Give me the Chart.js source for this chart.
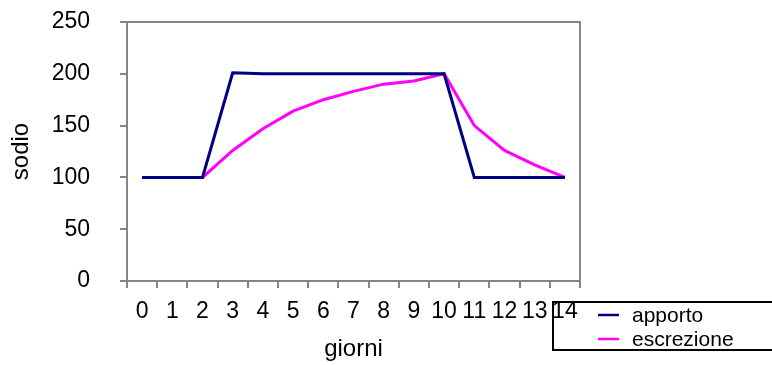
<!DOCTYPE html>
<html>
<head>
<meta charset="utf-8">
<script src="https://cdn.jsdelivr.net/npm/chart.js@4/dist/chart.umd.min.js"></script>
<style>
  html, body { margin: 0; padding: 0; background: #fff; }
  #wrap { width: 772px; height: 365px; }
</style>
</head>
<body>
<div id="wrap"><canvas id="c" width="772" height="365"></canvas></div>
<script>
// Days on the horizontal axis
const giorni = ['0','1','2','3','4','5','6','7','8','9','10','11','12','13','14'];
// Sodium intake
const apporto = [100, 100, 100, 201, 200, 200, 200, 200, 200, 200, 200, 100, 100, 100, 100];
// Sodium excretion
const escrezione = [100, 100, 100, 126, 147, 164, 175, 183, 190, 193, 200, 150, 126, 112, 100];
// Value axis ticks
const yTicks = [0, 50, 100, 150, 200, 250];
// Axis titles
const xTitle = 'giorni';
const yTitle = 'sodio';

const FONT = "'Liberation Sans', Arial, sans-serif";
const AXIS_GREY = '#858585';

// Grey frame around the plotting area
const frame = {
  id: 'frame',
  beforeDatasetsDraw(chart) {
    const { ctx, chartArea: a } = chart;
    ctx.save();
    ctx.strokeStyle = AXIS_GREY;
    ctx.lineWidth = 2;
    ctx.beginPath();
    ctx.moveTo(a.left, a.top);
    ctx.lineTo(a.right, a.top);
    ctx.lineTo(a.right, a.bottom);
    ctx.stroke();
    ctx.restore();
  }
};

// Axis titles placed relative to the plot area
const axisTitles = {
  id: 'axisTitles',
  afterDraw(chart) {
    const { ctx, chartArea: a } = chart;
    ctx.save();
    ctx.fillStyle = '#000';
    ctx.font = '24px ' + FONT;
    ctx.textAlign = 'center';
    ctx.textBaseline = 'alphabetic';
    ctx.fillText(xTitle, (a.left + a.right) / 2, a.bottom + 75);
    ctx.translate(28, (a.top + a.bottom) / 2);
    ctx.rotate(-Math.PI / 2);
    ctx.fillText(yTitle, 0, 0);
    ctx.restore();
  }
};

// Boxed legend in the lower right corner
const boxLegend = {
  id: 'boxLegend',
  afterDraw(chart) {
    const { ctx } = chart;
    const x = 553, y = 302, w = 230, h = 48;
    ctx.save();
    ctx.strokeStyle = '#000';
    ctx.lineWidth = 2;
    ctx.strokeRect(x, y, w, h);
    ctx.font = '21px ' + FONT;
    ctx.textBaseline = 'middle';
    chart.data.datasets.forEach((ds, i) => {
      const cy = 315 + i * 24;
      ctx.strokeStyle = ds.borderColor;
      ctx.lineWidth = 2.5;
      ctx.beginPath();
      ctx.moveTo(598, cy);
      ctx.lineTo(619, cy);
      ctx.stroke();
      ctx.fillStyle = '#000';
      ctx.fillText(ds.label, 632, cy + 1);
    });
    ctx.restore();
  }
};

new Chart(document.getElementById('c'), {
  type: 'line',
  data: {
    labels: giorni,
    datasets: [
      { label: 'apporto', data: apporto, borderColor: '#000080', borderWidth: 3,
        pointRadius: 0, tension: 0, fill: false },
      { label: 'escrezione', data: escrezione, borderColor: '#FF00FF', borderWidth: 3,
        pointRadius: 0, tension: 0, fill: false }
    ]
  },
  options: {
    responsive: false,
    animation: false,
    events: [],
    layout: { padding: { left: 8, right: 192, top: 22, bottom: 4 } },
    plugins: { legend: { display: false }, tooltip: { enabled: false } },
    scales: {
      x: {
        type: 'category',
        offset: true,
        grid: { offset: true, drawOnChartArea: false, drawTicks: true, tickLength: 7,
                color: AXIS_GREY, lineWidth: 2 },
        border: { display: true, color: AXIS_GREY, width: 2 },
        ticks: { color: '#000', font: { family: FONT, size: 23 }, padding: 10,
                 autoSkip: false, maxRotation: 0 },
        afterFit(scale) { scale.height = 80; scale.paddingLeft = 0; scale.paddingRight = 0; }
      },
      y: {
        min: 0, max: 250,
        afterBuildTicks(scale) { scale.ticks = yTicks.map(v => ({ value: v })); },
        grid: { drawOnChartArea: false, drawTicks: true, tickLength: 7,
                color: AXIS_GREY, lineWidth: 2 },
        border: { display: true, color: AXIS_GREY, width: 2 },
        ticks: { color: '#000', font: { family: FONT, size: 23 }, padding: 30 },
        afterFit(scale) { scale.width = 119; scale.paddingTop = 0; scale.paddingBottom = 0; }
      }
    }
  },
  plugins: [frame, axisTitles, boxLegend]
});
</script>
</body>
</html>
